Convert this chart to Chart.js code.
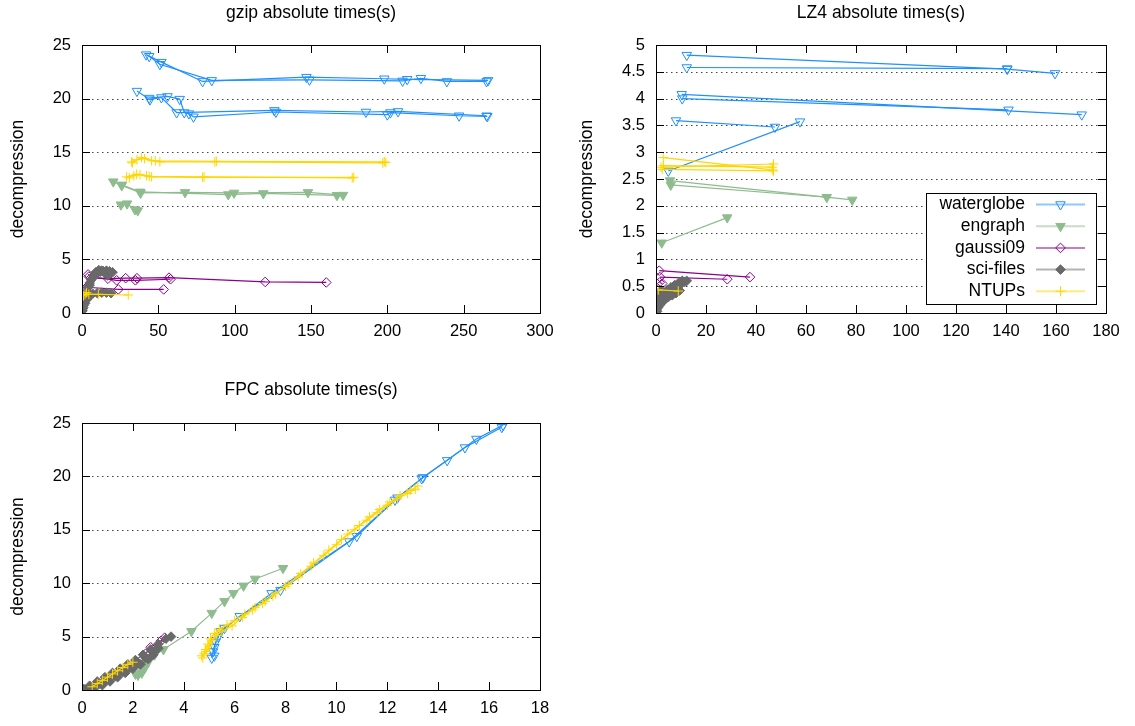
<!DOCTYPE html>
<html>
<head>
<meta charset="utf-8">
<title>absolute times</title>
<script src="https://cdn.jsdelivr.net/npm/chart.js@4.4.1/dist/chart.umd.min.js"></script>
<style>
  body { margin: 0; background: #fff; width: 1135px; height: 726px; position: relative; overflow: hidden; }
  canvas { position: absolute; }
</style>
</head>
<body>
<canvas id="gzipChart" width="567" height="345" style="left:0;top:0"></canvas>
<canvas id="lz4Chart" width="568" height="345" style="left:567px;top:0"></canvas>
<canvas id="fpcChart" width="567" height="363" style="left:0;top:363px"></canvas>
<script>
// series shared by all three plots
const seriesNames = ['waterglobe', 'engraph', 'gaussi09', 'sci-files', 'NTUPs'];
const seriesColors = ['#1e90ff', '#8fbc8f', '#8b008b', '#696969', '#ffd700'];
const seriesMarkers = ['triangle', 'triangle', 'rectRot', 'rectRot', 'cross'];
const seriesFilled = [false, true, false, true, false];

// each series is a list of curves, each curve a list of [time, decompression]
// ---- gzip ----
const gzipWaterglobe = [
  [[42, 24.1], [52, 23.4], [79, 21.6], [147, 22.0], [198, 21.85], [213, 21.8], [266, 21.7]],
  [[44, 23.95], [51, 23.2], [85, 21.7], [149, 21.75], [210, 21.65], [222, 21.9], [239, 21.6], [265, 21.6]],
  [[36, 20.7], [44.5, 19.9], [52, 20.1], [62, 18.7], [126, 18.9], [186, 18.75], [207, 18.8], [265, 18.4]],
  [[44, 20.05], [56, 20.2], [64, 19.95], [67, 18.7], [70, 18.6], [73, 18.3], [127, 18.75], [200, 18.5], [202, 18.7], [247, 18.4], [265.5, 18.35]]
];
const gzipEngraph = [
  [[20.5, 12.25], [26, 11.9], [38.4, 11.2], [67.5, 11.25], [99.6, 11.2], [148, 11.25], [171, 11.0]],
  [[26, 11.95], [38, 11.3], [95.8, 11.05], [118.8, 11.15], [167, 10.98]],
  [[25.5, 10.1], [29.5, 10.2], [34.7, 9.65], [36.5, 9.55]]
];
const gzipGaussi09 = [
  [[4, 3.6], [6, 3.3], [17, 3.2], [28.6, 3.25], [36, 3.25], [57, 3.3], [120, 2.9], [160, 2.85]],
  [[4.5, 3.4], [22.7, 3.05], [35, 3.05], [58, 3.15]],
  [[2, 2.1], [3, 2.4], [23.8, 2.2], [53.5, 2.2]]
];
const gzipSciFiles = [
  [[0.3, 0.2], [1, 0.7], [2, 1.3], [3, 1.9], [4, 2.4], [5, 2.8], [6.5, 3.2], [8, 3.5], [10, 3.7], [12, 3.85], [14, 3.9], [16, 3.95], [18, 3.9], [20, 3.8]],
  [[0.5, 0.4], [1.5, 1.0], [2.5, 1.5], [3.5, 2.0], [5, 2.6], [6, 3.1], [7.5, 3.5], [9, 3.8], [11, 4.0], [13, 3.95], [15, 3.7], [17, 3.5]],
  [[0.8, 0.5], [2, 0.9], [3.5, 1.3], [5, 1.6], [7, 1.8], [10, 1.85], [13, 1.9], [16, 1.9], [19, 1.85]]
];
const gzipNTUPs = [
  [[32.5, 14.1], [39, 14.5], [45.6, 14.2], [51, 14.1], [87, 14.1], [197, 14.0], [199, 14.05]],
  [[33, 14.0], [36, 14.3], [41, 14.4], [48, 14.2], [88, 14.15], [198, 14.1]],
  [[29.2, 12.7], [35.8, 12.95], [42.3, 12.8], [45.6, 12.7], [79, 12.66], [178, 12.66]],
  [[31, 12.6], [34, 12.8], [38, 12.9], [44, 12.75], [80, 12.7], [177, 12.6]],
  [[1, 1.6], [2, 1.74], [3, 1.9], [4.5, 1.75], [10.7, 1.74], [30.3, 1.68]]
];

// ---- LZ4 ----
const lz4Waterglobe = [
  [[12.3, 4.81], [140.5, 4.55], [159.6, 4.47]],
  [[12.3, 4.58], [140.5, 4.56]],
  [[10.3, 4.08], [170.3, 3.7]],
  [[10.5, 4.0], [141, 3.79]],
  [[8, 3.59], [47.6, 3.47]],
  [[4.9, 2.65], [57.6, 3.57]]
];
const lz4Engraph = [
  [[5.6, 2.47], [78.5, 2.11]],
  [[5.9, 2.39], [68.3, 2.16]],
  [[2.3, 1.31], [28.5, 1.78]]
];
const lz4Gaussi09 = [
  [[1.3, 0.79], [37.6, 0.67]],
  [[1.6, 0.67], [28.5, 0.63]],
  [[1.4, 0.57], [2.5, 0.55]]
];
const lz4SciFiles = [
  [[0.2, 0.05], [0.5, 0.12], [0.9, 0.2], [1.5, 0.27], [2.5, 0.33], [4, 0.38], [5.5, 0.42], [7, 0.46], [8.5, 0.5], [10, 0.54], [11.5, 0.58], [12.3, 0.6]],
  [[0.3, 0.08], [0.7, 0.16], [1.2, 0.24], [2, 0.3], [3, 0.36], [4.5, 0.43], [6, 0.48], [7.5, 0.52], [9, 0.56], [10.5, 0.6]],
  [[0.4, 0.03], [0.8, 0.1], [1.5, 0.15], [2.5, 0.2], [3.5, 0.25], [5, 0.3], [6.5, 0.33], [8, 0.37], [9.5, 0.42]],
  [[0.5, 0.2], [0.8, 0.3], [1.2, 0.38], [2, 0.42]]
];
const lz4NTUPs = [
  [[2.9, 2.9], [46.5, 2.67]],
  [[2, 2.72], [47, 2.78]],
  [[3, 2.75], [46.5, 2.72]],
  [[2.5, 2.68], [47, 2.65]],
  [[0.9, 0.43], [8.9, 0.41]]
];

// ---- FPC ----
const fpcWaterglobe = [
  [[5.1, 3.0], [5.15, 3.6], [5.25, 4.5], [5.45, 5.5], [6.2, 6.9], [7.8, 9.35], [10.8, 14.4], [12.3, 17.8], [13.35, 19.8], [14.35, 21.5], [15.5, 23.5], [16.55, 24.8]],
  [[5.2, 3.2], [5.2, 4.0], [5.35, 5.0], [5.6, 5.8], [7.45, 9.05], [10.5, 13.9], [12.4, 18.0], [13.4, 19.9], [15.05, 22.7], [16.5, 24.6]]
];
const fpcEngraph = [
  [[2.2, 1.4], [2.35, 1.6], [2.45, 2.0], [2.3, 2.2], [2.6, 2.6], [2.5, 2.9], [2.85, 3.3], [3.2, 3.8], [4.3, 5.5], [5.1, 7.2], [5.6, 8.3], [5.95, 9.05], [6.35, 9.75], [6.8, 10.4], [7.9, 11.4]],
  [[2.1, 1.5], [2.5, 2.4], [2.9, 3.5]]
];
const fpcGaussi09 = [
  [[2.5, 3.4], [2.7, 4.0], [3.1, 4.6], [3.25, 4.9]]
];
const fpcSciFiles = [
  [[0.05, 0.1], [0.3, 0.4], [0.6, 0.8], [0.9, 1.2], [1.2, 1.6], [1.5, 2.0], [1.8, 2.4], [2.1, 2.8], [2.4, 3.3], [2.7, 3.8], [3.0, 4.3], [3.3, 4.8], [3.5, 5.0]],
  [[0.1, 0.05], [0.4, 0.3], [0.7, 0.6], [1.0, 0.95], [1.3, 1.3], [1.6, 1.7], [1.9, 2.1], [2.2, 2.5], [2.5, 3.0], [2.8, 3.5], [3.0, 3.9]],
  [[0.2, 0.0], [0.5, 0.2], [0.8, 0.45], [1.1, 0.8], [1.4, 1.2], [1.7, 1.6], [2.0, 2.0], [2.3, 2.4], [2.6, 2.9], [2.8, 3.3]]
];
const fpcNTUPs = [
  [[4.75, 3.0], [4.8, 3.4], [4.85, 3.8], [4.95, 4.3], [5.05, 4.8], [5.2, 5.3], [5.4, 5.7], [5.7, 6.1], [6.0, 6.5], [6.4, 7.1], [6.8, 7.7], [7.2, 8.3], [7.6, 9.0], [8.0, 9.7], [8.5, 10.6], [9.0, 11.6], [9.5, 12.6], [10.0, 13.6], [10.45, 14.6], [10.9, 15.4], [11.3, 16.2], [11.7, 16.9], [12.1, 17.6], [12.5, 18.2], [12.9, 18.7], [13.2, 19.1]],
  [[4.7, 3.2], [4.9, 3.6], [5.0, 4.1], [5.1, 4.6], [5.3, 5.1], [5.5, 5.5], [5.9, 6.0], [6.3, 6.8], [6.7, 7.5], [7.1, 8.1], [7.5, 8.8], [8.1, 9.9], [8.6, 10.9], [9.1, 11.9], [9.7, 13.1], [10.2, 14.1], [10.7, 15.0], [11.2, 15.9], [11.6, 16.6], [12.0, 17.3], [12.4, 17.9], [12.8, 18.4], [13.1, 18.8]],
  [[0.4, 0.3], [0.6, 0.6], [0.8, 0.9], [1.0, 1.2], [1.2, 1.5], [1.4, 1.8], [1.6, 2.1], [1.8, 2.4], [2.0, 2.6]]
];

const FONT = '"Liberation Sans", Arial, sans-serif';
Chart.defaults.font.family = FONT;
Chart.defaults.font.size = 16.5;
Chart.defaults.color = '#000';

function buildDatasets(curvesBySeries) {
  const sets = [];
  curvesBySeries.forEach((curves, s) => {
    curves.forEach(curve => {
      sets.push({
        label: seriesNames[s],
        data: curve.map(p => ({ x: p[0], y: p[1] })),
        showLine: true,
        tension: 0,
        borderColor: seriesColors[s],
        borderWidth: 1.2,
        pointStyle: seriesMarkers[s],
        pointRotation: seriesMarkers[s] === 'triangle' ? 180 : 0,
        pointRadius: seriesMarkers[s] === 'triangle' ? 5.5 : 4.8,
        pointBorderColor: seriesColors[s],
        pointBackgroundColor: seriesFilled[s] ? seriesColors[s] : 'rgba(0,0,0,0)',
        pointBorderWidth: 1,
        order: 10 - s
      });
    });
  });
  return sets;
}

// small marker drawer for the key box
function drawMarker(ctx, s, x, y) {
  ctx.beginPath();
  const m = seriesMarkers[s];
  if (m === 'triangle') {
    const r = 5.5;
    ctx.moveTo(x, y + r);
    ctx.lineTo(x - r * 0.866, y - r / 2);
    ctx.lineTo(x + r * 0.866, y - r / 2);
    ctx.closePath();
  } else if (m === 'rectRot') {
    const r = 4.8;
    ctx.moveTo(x, y - r); ctx.lineTo(x + r, y); ctx.lineTo(x, y + r); ctx.lineTo(x - r, y);
    ctx.closePath();
  } else {
    const r = 5;
    ctx.moveTo(x - r, y); ctx.lineTo(x + r, y);
    ctx.moveTo(x, y - r); ctx.lineTo(x, y + r);
  }
  if (seriesFilled[s]) { ctx.fillStyle = seriesColors[s]; ctx.fill(); }
  ctx.strokeStyle = seriesColors[s];
  ctx.lineWidth = 1;
  ctx.stroke();
}

// gnuplot-like frame: dotted y grid, inward ticks, title, y label, optional key
const framePlugin = {
  id: 'gnuplotFrame',
  beforeDatasetsDraw(chart) {
    const { ctx, chartArea: a, scales: { y } } = chart;
    ctx.save();
    ctx.strokeStyle = '#444';
    ctx.lineWidth = 1;
    ctx.setLineDash([1.5, 3.5]);
    ctx.beginPath();
    y.ticks.forEach(t => {
      if (t.value <= y.min || t.value >= y.max) return;
      const py = Math.round(y.getPixelForValue(t.value)) + 0.5;
      ctx.moveTo(a.left, py);
      ctx.lineTo(a.right, py);
    });
    ctx.stroke();
    ctx.restore();
  },
  afterDraw(chart, args, o) {
    const { ctx, chartArea: a, scales: { x, y } } = chart;
    const tl = 8;
    ctx.save();
    ctx.strokeStyle = '#000';
    ctx.lineWidth = 1;
    ctx.beginPath();
    x.ticks.forEach(t => {
      const px = Math.round(x.getPixelForValue(t.value)) + 0.5;
      ctx.moveTo(px, a.bottom); ctx.lineTo(px, a.bottom - tl);
      ctx.moveTo(px, a.top); ctx.lineTo(px, a.top + tl);
    });
    y.ticks.forEach(t => {
      const py = Math.round(y.getPixelForValue(t.value)) + 0.5;
      ctx.moveTo(a.left, py); ctx.lineTo(a.left + tl, py);
      ctx.moveTo(a.right, py); ctx.lineTo(a.right - tl, py);
    });
    ctx.stroke();
    ctx.strokeRect(Math.round(a.left) + 0.5, Math.round(a.top) + 0.5, Math.round(a.right - a.left), Math.round(a.bottom - a.top));

    ctx.fillStyle = '#000';
    ctx.font = '17.5px ' + FONT;
    ctx.textAlign = 'center';
    ctx.textBaseline = 'middle';
    ctx.fillText(o.title, (a.left + a.right) / 2, o.titleY);

    ctx.save();
    ctx.translate(a.left - o.yTitleOffset, (a.top + a.bottom) / 2);
    ctx.rotate(-Math.PI / 2);
    ctx.fillText('decompression', 0, 0);
    ctx.restore();

    if (o.key) {
      const bx = a.right - 180, by = a.bottom - 120, bw = 170, bh = 111;
      ctx.fillStyle = '#fff';
      ctx.fillRect(bx, by, bw, bh);
      ctx.strokeStyle = '#000';
      ctx.strokeRect(bx + 0.5, by + 0.5, bw, bh);
      ctx.font = '17.5px ' + FONT;
      seriesNames.forEach((name, s) => {
        const ry = by + 11.5 + s * 21.7;
        ctx.fillStyle = '#000';
        ctx.textAlign = 'right';
        ctx.fillText(name, bx + 99, ry);
        ctx.globalAlpha = 0.5;
        ctx.strokeStyle = seriesColors[s];
        ctx.lineWidth = 2;
        ctx.beginPath();
        ctx.moveTo(bx + 110, ry); ctx.lineTo(bx + 159, ry);
        ctx.stroke();
        ctx.globalAlpha = 1;
        drawMarker(ctx, s, bx + 134.5, ry);
      });
    }
    ctx.restore();
  }
};

function makeChart(id, cfg) {
  return new Chart(document.getElementById(id), {
    type: 'scatter',
    data: { datasets: buildDatasets(cfg.series) },
    options: {
      responsive: false,
      animation: false,
      events: [],
      layout: { padding: cfg.padding },
      plugins: {
        legend: { display: false },
        tooltip: { enabled: false },
        gnuplotFrame: { title: cfg.title, titleY: cfg.titleY, yTitleOffset: cfg.yTitleOffset, key: cfg.key }
      },
      scales: {
        x: {
          type: 'linear', min: cfg.xMin, max: cfg.xMax,
          ticks: { stepSize: cfg.xStep, padding: 9, maxRotation: 0, callback: v => String(v) },
          grid: { display: false, drawTicks: false },
          border: { display: false },
          afterFit: s => { s.height = 25; }
        },
        y: {
          type: 'linear', min: cfg.yMin, max: cfg.yMax,
          ticks: { stepSize: cfg.yStep, padding: 11, callback: v => String(v) },
          grid: { display: false, drawTicks: false },
          border: { display: false },
          afterFit: s => { s.width = 60; }
        }
      }
    },
    plugins: [framePlugin]
  });
}

makeChart('gzipChart', {
  title: 'gzip absolute times(s)', titleY: 13, yTitleOffset: 64, key: false,
  series: [gzipWaterglobe, gzipEngraph, gzipGaussi09, gzipSciFiles, gzipNTUPs],
  xMin: 0, xMax: 300, xStep: 50, yMin: 0, yMax: 25, yStep: 5,
  padding: { left: 22, top: 45, right: 27, bottom: 7 }
});

makeChart('lz4Chart', {
  title: 'LZ4 absolute times(s)', titleY: 13, yTitleOffset: 69, key: true,
  series: [lz4Waterglobe, lz4Engraph, lz4Gaussi09, lz4SciFiles, lz4NTUPs],
  xMin: 0, xMax: 180, xStep: 20, yMin: 0, yMax: 5, yStep: 0.5,
  padding: { left: 29, top: 45, right: 29, bottom: 7 }
});

makeChart('fpcChart', {
  title: 'FPC absolute times(s)', titleY: 27, yTitleOffset: 64, key: false,
  series: [fpcWaterglobe, fpcEngraph, fpcGaussi09, fpcSciFiles, fpcNTUPs],
  xMin: 0, xMax: 18, xStep: 2, yMin: 0, yMax: 25, yStep: 5,
  padding: { left: 22, top: 60, right: 27, bottom: 11 }
});
</script>
</body>
</html>
